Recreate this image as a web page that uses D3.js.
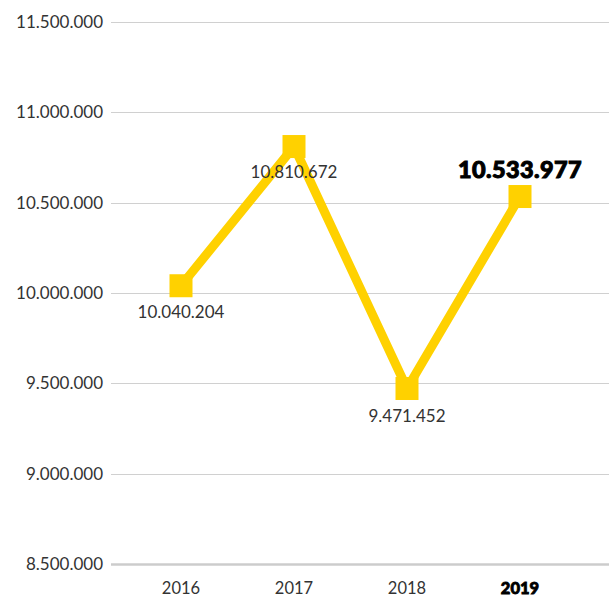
<!DOCTYPE html>
<html><head><meta charset="utf-8">
<script src="https://cdn.jsdelivr.net/npm/d3@7"></script>
<style>
html,body{margin:0;padding:0;background:#fff;}
svg{display:block;font-family:Lato, "Open Sans", sans-serif;}
</style></head>
<body>
<svg id="chart" width="609" height="595"></svg>
<script>
const years = ["2016","2017","2018","2019"];
const values = [10040204, 10810672, 9471452, 10533977];
const yTicks = [8500000, 9000000, 9500000, 10000000, 10500000, 11000000, 11500000];
const highlightYear = "2019";

const svg = d3.select("#chart");
const W = 609, H = 595;
const x = d3.scalePoint().domain(years).range([181, 520]);
const y = d3.scaleLinear().domain([8500000, 11500000]).range([564, 22]);
const loc = d3.formatLocale({decimal: ",", thousands: ".", grouping: [3], currency: ["", ""]});
const fmt = loc.format(",d");

// grid
svg.append("g").selectAll("line").data(yTicks.filter(d => d !== 8500000)).join("line")
  .attr("x1", 111).attr("x2", W)
  .attr("y1", d => Math.round(y(d)) + 0.5).attr("y2", d => Math.round(y(d)) + 0.5)
  .attr("stroke", "#d0d0d0").attr("stroke-width", 1);
// baseline
svg.append("line").attr("x1", 111).attr("x2", W)
  .attr("y1", y(8500000) + 0.5).attr("y2", y(8500000) + 0.5)
  .attr("stroke", "#cccccc").attr("stroke-width", 2.5);

// y labels
svg.append("g").selectAll("text").data(yTicks).join("text")
  .attr("x", 103)
  .attr("y", d => y(d))
  .attr("dy", "0.35em")
  .attr("text-anchor", "end")
  .attr("font-size", 17)
  .attr("fill", "#333")
  .text(d => fmt(d));

// x labels
svg.append("g").selectAll("text").data(years).join("text")
  .attr("x", d => x(d)).attr("y", 594)
  .attr("text-anchor", "middle")
  .attr("font-size", 16.5)
  .attr("font-weight", d => d === highlightYear ? 900 : 400)
  .attr("fill", d => d === highlightYear ? "#000" : "#333")
  .attr("stroke", d => d === highlightYear ? "#000" : "none")
  .attr("stroke-width", 0.8)
  .text(d => d);

const data = years.map((d, i) => ({year: d, value: values[i]}));
const line = d3.line().x(d => x(d.year)).y(d => y(d.value));
svg.append("path").datum(data).attr("d", line)
  .attr("fill", "none").attr("stroke", "#FFD100").attr("stroke-width", 9)
  .attr("stroke-linejoin", "miter");

const S = 23;
svg.append("g").selectAll("rect").data(data).join("rect")
  .attr("x", d => x(d.year) - S / 2).attr("y", d => y(d.value) - S / 2)
  .attr("width", S).attr("height", S).attr("fill", "#FFD100");

// value labels
const offs = {"2016": 26, "2017": 26, "2018": 28, "2019": -27};
svg.append("g").selectAll("text").data(data).join("text")
  .attr("x", d => x(d.year))
  .attr("y", d => y(d.value) + offs[d.year])
  .attr("dy", "0.35em")
  .attr("text-anchor", "middle")
  .attr("font-size", d => d.year === highlightYear ? 23.5 : 17)
  .attr("font-weight", d => d.year === highlightYear ? 900 : 400)
  .attr("fill", d => d.year === highlightYear ? "#000" : "#333")
  .attr("stroke", d => d.year === highlightYear ? "#000" : "none")
  .attr("stroke-width", 1)
  .attr("letter-spacing", d => d.year === highlightYear ? 0.4 : 0)
  .text(d => fmt(d.value));
</script>
</body></html>
